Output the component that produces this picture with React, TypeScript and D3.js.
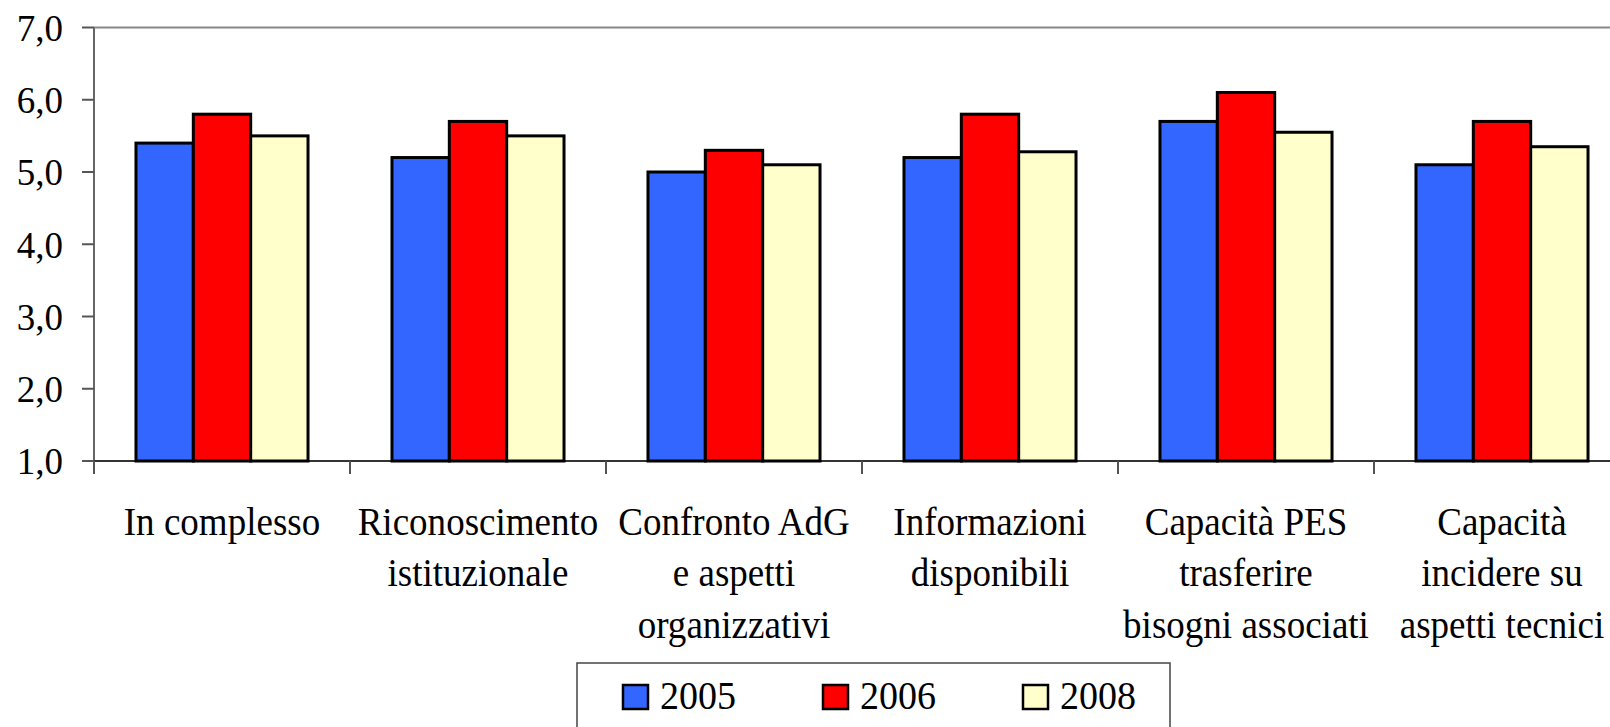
import React from "react";
import * as d3 from "d3";

const categories = [
  ["In complesso"],
  ["Riconoscimento", "istituzionale"],
  ["Confronto AdG", "e aspetti", "organizzativi"],
  ["Informazioni", "disponibili"],
  ["Capacità PES", "trasferire", "bisogni associati"],
  ["Capacità", "incidere su", "aspetti tecnici"],
];
const series = ["2005", "2006", "2008"];
const values2005 = [5.4, 5.2, 5.0, 5.2, 5.7, 5.1];
const values2006 = [5.8, 5.7, 5.3, 5.8, 6.1, 5.7];
const values2008 = [5.5, 5.5, 5.1, 5.28, 5.55, 5.35];
const yTicks = [1, 2, 3, 4, 5, 6, 7];

const colors = ["#3366FF", "#FF0000", "#FFFFCC"];
const font = "'Liberation Serif', 'Times New Roman', serif";

const App = () => {
  const width = 1610;
  const height = 727;
  const left = 94;
  const top = 27.5;
  const bottom = 461;
  const right = 1630;

  const keys = categories.map((c) => c.join(" "));
  const allValues = [values2005, values2006, values2008];

  const x0 = d3.scaleBand().domain(keys).range([left, right]).paddingInner(0.328).paddingOuter(0.164);
  const x1 = d3.scaleBand().domain(series).range([0, x0.bandwidth()]);
  const y = d3.scaleLinear().domain([1, 7]).range([bottom, top]);
  const fmt = (v: number) => d3.format(".1f")(v).replace(".", ",");
  const step = x0.step();

  // legend layout
  const legend = d3.scalePoint().domain(series).range([623, 1023]);

  return (
    <svg width={width} height={height} style={{ position: "absolute", left: 0, top: 0 }}>
      <rect width={width} height={height} fill="#fff" />
      {/* plot frame */}
      <line x1={left} x2={width} y1={top} y2={top} stroke="#888" strokeWidth={2} />
      <line x1={left} x2={left} y1={top} y2={bottom + 13} stroke="#666" strokeWidth={2} />
      <line x1={left} x2={width} y1={bottom} y2={bottom} stroke="#333" strokeWidth={2} />

      {yTicks.map((t) => (
        <g key={t}>
          <line x1={left - 12} x2={left} y1={y(t)} y2={y(t)} stroke="#555" strokeWidth={2} />
          <text x={63} y={y(t)} dy="0.36em" textAnchor="end" fontFamily={font} fontSize={37} fill="#000">
            {fmt(t)}
          </text>
        </g>
      ))}

      {d3.range(categories.length + 1).map((i) => (
        <line key={i} x1={left + i * step} x2={left + i * step} y1={bottom} y2={bottom + 13} stroke="#555" strokeWidth={2} />
      ))}

      {keys.map((k, i) => (
        <g key={k} transform={`translate(${x0(k)},0)`}>
          {series.map((s, j) => (
            <rect
              key={s}
              x={x1(s)}
              y={y(allValues[j][i])}
              width={x1.bandwidth()}
              height={y(1) - y(allValues[j][i])}
              fill={colors[j]}
              stroke="#000"
              strokeWidth={3}
            />
          ))}
        </g>
      ))}

      {categories.map((lines, i) => {
        const cx = (x0(keys[i]) ?? 0) + x0.bandwidth() / 2;
        return (
          <g key={i} transform={`translate(${cx},0) scale(0.95,1)`}>
            <text y={535} textAnchor="middle" fontFamily={font} fontSize={39} fill="#000">
              {lines.map((l, k) => (
                <tspan key={k} x={0} dy={k === 0 ? 0 : 51.5}>
                  {l}
                </tspan>
              ))}
            </text>
          </g>
        );
      })}

      {/* legend */}
      <rect x={577} y={663} width={593} height={80} fill="#fff" stroke="#444" strokeWidth={1.5} />
      {series.map((s, j) => {
        const lx = legend(s) ?? 0;
        return (
          <g key={s}>
            <rect x={lx} y={685} width={25} height={24} fill={colors[j]} stroke="#000" strokeWidth={2.5} />
            <g transform={`translate(${lx + 37},709) scale(0.975,1)`}>
              <text x={0} y={0} fontFamily={font} fontSize={39} fill="#000">
                {s}
              </text>
            </g>
          </g>
        );
      })}
    </svg>
  );
};

export default App;
